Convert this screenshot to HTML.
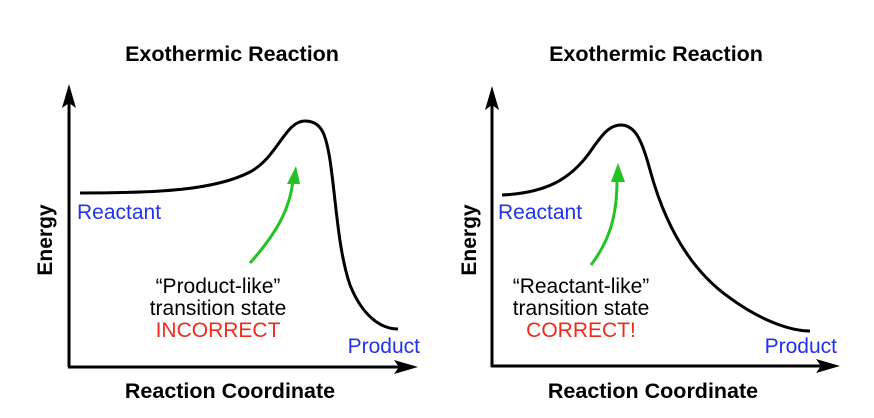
<!DOCTYPE html>
<html><head><style>
html,body{margin:0;padding:0;background:#fff;}
svg{display:block;}
text{font-family:"Liberation Sans",Arial,sans-serif;}
</style></head><body>
<svg width="874" height="418" viewBox="0 0 874 418">
<!-- Left chart -->
<text x="232" y="61" text-anchor="middle" font-weight="bold" font-size="21.5">Exothermic Reaction</text>
<line x1="69" y1="367" x2="69" y2="100" stroke="#000" stroke-width="3"/>
<polygon points="69,84 62,108 69,103 76,108" fill="#000"/>
<line x1="68" y1="367" x2="400" y2="367" stroke="#000" stroke-width="3"/>
<polygon points="418,367 394,360 399,367 394,374" fill="#000"/>
<path d="M80,193 C160,193 215,190 250,172 C278,157 285,121 305,121 C322,121 326,135 330,160 C336,200 338,250 350,285 C362,315 380,329 398,329" fill="none" stroke="#000" stroke-width="3"/>
<path d="M250,263 C275,235 290,210 293,180" fill="none" stroke="#22c322" stroke-width="3"/>
<polygon points="296,166 287,184 300,184" fill="#22c322"/>
<text x="77" y="219" font-size="21" fill="#2233ee">Reactant</text>
<text x="420" y="353" text-anchor="end" font-size="21" fill="#2233ee">Product</text>
<text x="218" y="293" text-anchor="middle" font-size="21">“Product-like”</text>
<text x="218" y="315" text-anchor="middle" font-size="21">transition state</text>
<text x="218" y="337" text-anchor="middle" font-size="21" fill="#ee2a1a">INCORRECT</text>
<text transform="translate(52,240) rotate(-90)" text-anchor="middle" font-weight="bold" font-size="21">Energy</text>
<text x="230" y="398" text-anchor="middle" font-weight="bold" font-size="21.5">Reaction Coordinate</text>
<!-- Right chart -->
<text x="656" y="61" text-anchor="middle" font-weight="bold" font-size="21.5">Exothermic Reaction</text>
<line x1="492" y1="367" x2="492" y2="102" stroke="#000" stroke-width="3"/>
<polygon points="492,86 485,110 492,105 499,110" fill="#000"/>
<line x1="491" y1="366" x2="822" y2="366" stroke="#000" stroke-width="3"/>
<polygon points="840,366 816,359 821,366 816,373" fill="#000"/>
<path d="M502,195 C545,193 570,180 590,152 C603,133 610,125 621,125 C635,125 642,140 650,170 C665,225 690,270 730,298 C760,320 790,331 810,331" fill="none" stroke="#000" stroke-width="3"/>
<path d="M591,265 C610,240 617,215 617,180" fill="none" stroke="#22c322" stroke-width="3"/>
<polygon points="618,163 611,182 625,182" fill="#22c322"/>
<text x="498" y="219" font-size="21" fill="#2233ee">Reactant</text>
<text x="837" y="353" text-anchor="end" font-size="21" fill="#2233ee">Product</text>
<text x="581" y="293" text-anchor="middle" font-size="21">“Reactant-like”</text>
<text x="581" y="315" text-anchor="middle" font-size="21">transition state</text>
<text x="581" y="337" text-anchor="middle" font-size="21" fill="#ee2a1a">CORRECT!</text>
<text transform="translate(476,240) rotate(-90)" text-anchor="middle" font-weight="bold" font-size="21">Energy</text>
<text x="653" y="398" text-anchor="middle" font-weight="bold" font-size="21.5">Reaction Coordinate</text>
</svg>
</body></html>
